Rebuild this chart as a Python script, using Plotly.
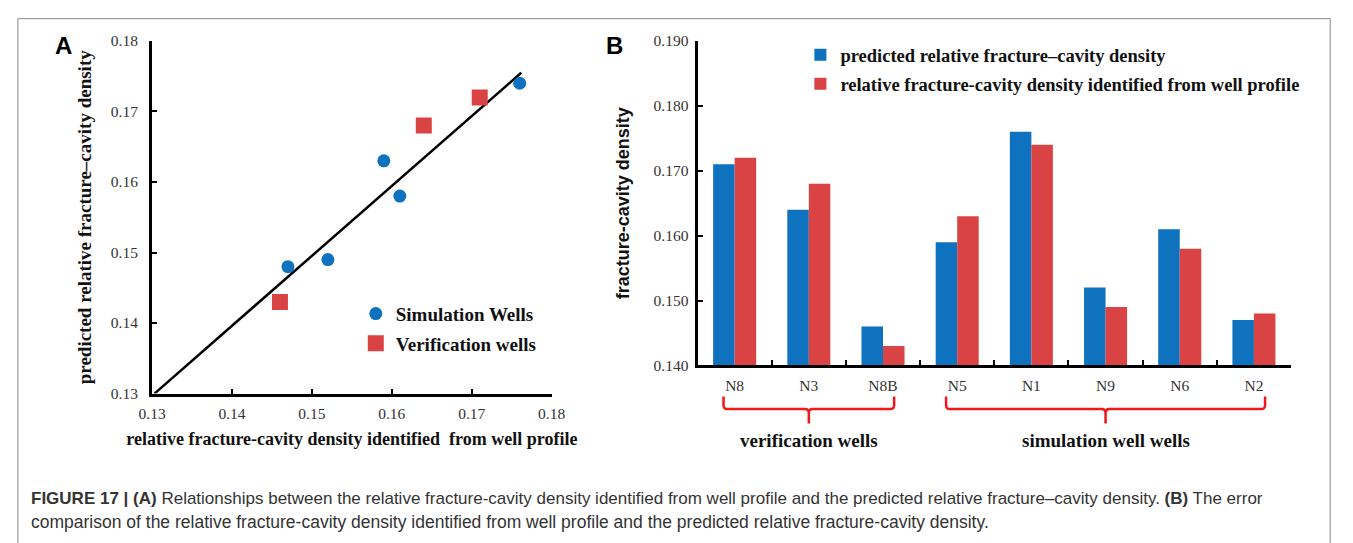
import plotly.graph_objects as go

W, H = 1353, 543

# ---------------- data ----------------
# Panel A
sim_x = [0.147, 0.152, 0.159, 0.161, 0.176]
sim_y = [0.148, 0.149, 0.163, 0.158, 0.174]
ver_x = [0.146, 0.164, 0.171]
ver_y = [0.143, 0.168, 0.172]
fit_x = [0.1303, 0.1762]
fit_y = [0.1300, 0.1755]
a_ticks = [0.13, 0.14, 0.15, 0.16, 0.17, 0.18]

# Panel B
wells = ["N8", "N3", "N8B", "N5", "N1", "N9", "N6", "N2"]
predicted = [0.171, 0.164, 0.146, 0.159, 0.176, 0.152, 0.161, 0.147]
identified = [0.172, 0.168, 0.143, 0.163, 0.174, 0.149, 0.158, 0.148]
b_ticks = [0.14, 0.15, 0.16, 0.17, 0.18, 0.19]
groups = [("verification wells", 0, 2), ("simulation well wells", 3, 7)]

BLUE = "#0E72BE"
RED = "#DA4343"
SERIF = "Liberation Serif, Times New Roman, serif"
SANS = "Liberation Sans, Arial, sans-serif"


def px(x):
    return x / W


def py(y):
    return 1 - y / H


A_X0, A_X1, A_Y0, A_Y1 = 141, 549, 397, 33
B_X0, B_X1, B_Y0, B_Y1 = 698, 1304, 368, 33

fig = go.Figure()

fig.add_trace(go.Scatter(
    x=fit_x, y=fit_y, mode="lines", line=dict(color="black", width=2.5),
    showlegend=False, xaxis="x", yaxis="y", hoverinfo="skip"))
fig.add_trace(go.Scatter(
    x=sim_x, y=sim_y, mode="markers", name="<b>Simulation Wells</b>",
    marker=dict(color=BLUE, size=13, symbol="circle"),
    xaxis="x", yaxis="y", legend="legend", legendgroup="a1"))
fig.add_trace(go.Scatter(
    x=ver_x, y=ver_y, mode="markers", name="<b>Verification wells</b>",
    marker=dict(color=RED, size=16, symbol="square"),
    xaxis="x", yaxis="y", legend="legend", legendgroup="a2"))

fig.add_trace(go.Bar(
    x=wells, y=predicted, name="<b>predicted relative fracture\u2013cavity density</b>",
    marker=dict(color=BLUE, line=dict(width=0)), xaxis="x2", yaxis="y2",
    legend="legend2", legendgroup="b1"))
fig.add_trace(go.Bar(
    x=wells, y=identified,
    name="<b>relative fracture-cavity density identified from well profile</b>",
    marker=dict(color=RED, line=dict(width=0)), xaxis="x2", yaxis="y2",
    legend="legend2", legendgroup="b2"))

axis_common = dict(showline=True, linecolor="black", linewidth=3, ticks="inside",
                   ticklen=5, tickwidth=2, tickcolor="black", showgrid=False,
                   zeroline=False, tickfont=dict(family=SERIF, size=15.5, color="#333"))

annotations = []
shapes = []

# border
shapes.append(dict(type="rect", xref="paper", yref="paper",
                   x0=px(4), x1=px(1344), y0=-0.1, y1=py(10),
                   line=dict(color="#8a8a8a", width=1), layer="below"))

# panel letters
annotations.append(dict(text="<b>A</b>", x=px(51), y=py(38), xref="paper", yref="paper",
                        xanchor="center", yanchor="middle",
                        showarrow=False, font=dict(family=SANS, size=24, color="black")))
annotations.append(dict(text="<b>B</b>", x=px(613), y=py(38), xref="paper", yref="paper",
                        xanchor="center", yanchor="middle",
                        showarrow=False, font=dict(family=SANS, size=24, color="black")))

# braces under panel B
step = (B_X1 - B_X0) / len(wells)
for label, i0, i1 in groups:
    xa = B_X0 + (i0 + 0.5) * step - 0.15 * step
    xb = B_X0 + (i1 + 0.5) * step + 0.15 * step
    xc = (xa + xb) / 2
    ytop, ymid, ybot = 400, 413, 428
    r = 4

    def P(x, y):
        return f"{px(x):.5f},{py(y):.5f}"
    path = (f"M {P(xa, ytop)} L {P(xa, ymid - r)} Q {P(xa, ymid)} {P(xa + r, ymid)} "
            f"L {P(xc - r, ymid)} Q {P(xc, ymid)} {P(xc, ymid + r)} L {P(xc, ybot)} "
            f"M {P(xc, ymid + r)} Q {P(xc, ymid)} {P(xc + r, ymid)} "
            f"L {P(xb - r, ymid)} Q {P(xb, ymid)} {P(xb, ymid - r)} L {P(xb, ytop)}")
    shapes.append(dict(type="path", xref="paper", yref="paper", path=path,
                       line=dict(color="#F01818", width=2.5)))
    annotations.append(dict(text=f"<b>{label}</b>", x=px(xc), y=py(445),
                            xref="paper", yref="paper", showarrow=False,
                            xanchor="center", yanchor="middle",
                            font=dict(family=SERIF, size=19, color="#111")))

# caption
cap1 = ("<b>FIGURE 17 | (A)</b> Relationships between the relative fracture-cavity density identified "
        "from well profile and the predicted relative fracture\u2013cavity density. <b>(B)</b> The error")
cap2 = ("comparison of the relative fracture-cavity density identified from well profile and the "
        "predicted relative fracture-cavity density.")
annotations.append(dict(text=cap1, x=px(15), y=py(505), xref="paper", yref="paper",
                        xanchor="left", yanchor="middle", showarrow=False,
                        font=dict(family=SANS, size=17, color="#333")))
annotations.append(dict(text=cap2, x=px(15), y=py(530), xref="paper", yref="paper",
                        xanchor="left", yanchor="middle", showarrow=False,
                        font=dict(family=SANS, size=17.5, color="#333")))

fig.update_layout(
    width=W, height=H, margin=dict(l=0, r=0, t=0, b=0),
    paper_bgcolor="white", plot_bgcolor="white",
    barmode="group", bargap=0.42, bargroupgap=0,
    xaxis=dict(domain=[px(A_X0), px(A_X1)], range=[0.13, 0.18], tickvals=a_ticks,
               anchor="y", ticklabelstandoff=4,
               title=dict(text="<b>relative fracture-cavity density identified  from well profile</b>",
                          font=dict(family=SERIF, size=18, color="#111"), standoff=12),
               **axis_common),
    yaxis=dict(domain=[py(A_Y0), py(A_Y1)], range=[0.13, 0.18], tickvals=a_ticks,
               anchor="x", ticklabelstandoff=8,
               title=dict(text="<b>predicted relative fracture\u2013cavity density</b>",
                          font=dict(family=SERIF, size=19, color="#111"), standoff=15),
               **axis_common),
    xaxis2=dict(domain=[px(B_X0), px(B_X1)], type="category", tickson="boundaries",
                anchor="y2", ticklabelstandoff=4, **axis_common),
    yaxis2=dict(domain=[py(B_Y0), py(B_Y1)], range=[0.14, 0.19], tickvals=b_ticks,
                tickformat=".3f", anchor="x2", ticklabelstandoff=3,
                title=dict(text="<b>fracture-cavity density</b>",
                           font=dict(family=SANS, size=18, color="#111"), standoff=20),
                **axis_common),
    legend=dict(x=px(349), y=py(295), xanchor="left", yanchor="top",
                bgcolor="rgba(0,0,0,0)", tracegroupgap=2, itemwidth=30,
                font=dict(family=SERIF, size=19, color="#111")),
    legend2=dict(x=px(803), y=py(28), xanchor="left", yanchor="top",
                 bgcolor="rgba(0,0,0,0)", itemwidth=30, tracegroupgap=2,
                 font=dict(family=SERIF, size=18.5, color="#111")),
    annotations=annotations, shapes=shapes,
)

fig.write_html("out.html")
